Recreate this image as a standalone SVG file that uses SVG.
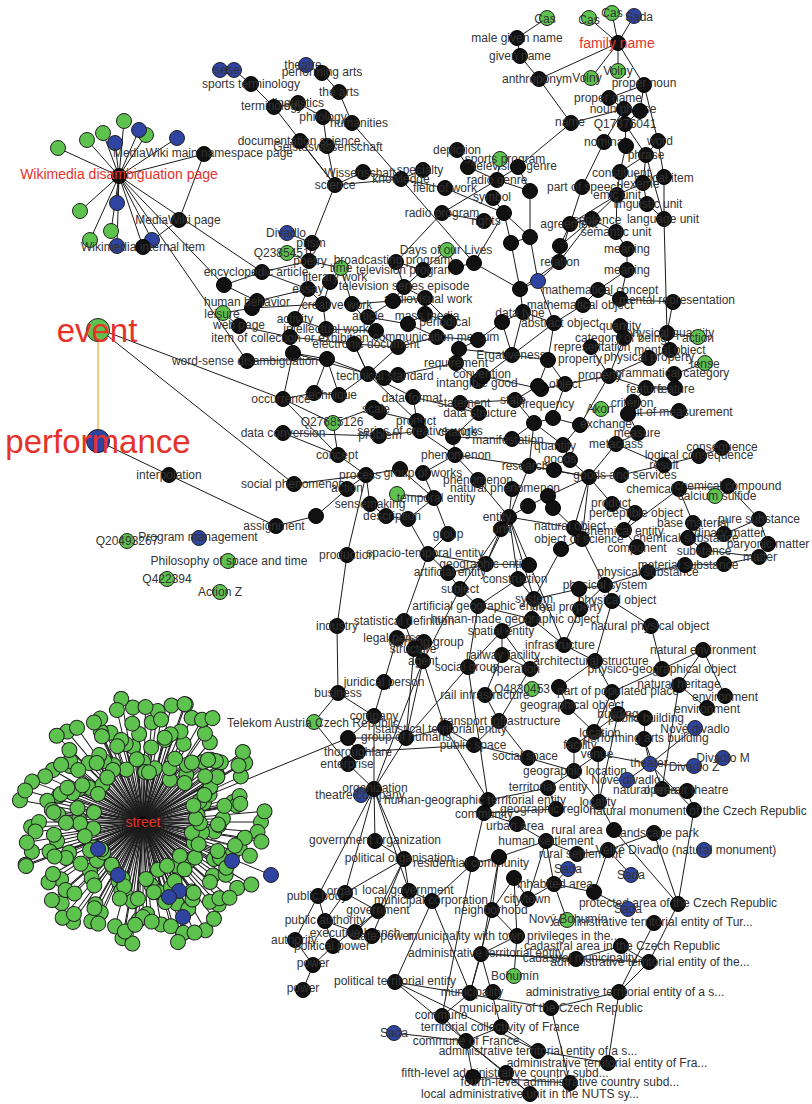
<svg xmlns="http://www.w3.org/2000/svg" width="812" height="1104" viewBox="0 0 812 1104">
<style>
.k{fill:#111;stroke:#000;stroke-width:1}
.g{fill:#5ec24e;stroke:#222;stroke-width:1}
.b{fill:#2e44a0;stroke:#222;stroke-width:1}
text{font-family:"Liberation Sans",Arial,sans-serif;font-size:12px;fill:#333;text-anchor:middle;dominant-baseline:central}
text.r{fill:#e5322b;font-size:14px}
text.big{fill:#e5322b;font-size:33px}
#edges path{stroke:#1b1b1b;stroke-width:1;fill:none}
#street-spokes line{stroke:#1b1b1b;stroke-width:1}
</style>
<rect width="812" height="1104" fill="#fff"/>
<g id="edges">
<path d="M547 18L517 38"/><path d="M517 38L520 56"/><path d="M520 56L539 79"/><path d="M539 79L618 43"/><path d="M539 79L571 123"/>
<path d="M589 18L618 43"/><path d="M612 13L618 43"/><path d="M634 16L618 43"/><path d="M591 78L618 43"/><path d="M618 71L618 43"/>
<path d="M618 43L644 85"/><path d="M644 85L609 98"/><path d="M644 85L640 111"/><path d="M644 85L658 141"/><path d="M609 98L624 109"/>
<path d="M571 123L624 109"/><path d="M571 123L518 167"/><path d="M624 109L625 124"/><path d="M640 111L625 124"/><path d="M625 124L626 146"/>
<path d="M625 124L646 155"/><path d="M604 142L582 187"/><path d="M604 142L624 109"/><path d="M626 146L620 172"/><path d="M658 141L664 177"/>
<path d="M658 141L646 155"/><path d="M646 155L620 172"/><path d="M646 155L643 183"/><path d="M646 155L664 219"/><path d="M664 177L664 219"/>
<path d="M620 172L617 195"/><path d="M643 183L617 195"/><path d="M643 183L647 204"/><path d="M617 195L592 219"/><path d="M617 195L570 224"/>
<path d="M617 195L616 232"/><path d="M647 204L664 219"/><path d="M582 187L570 224"/><path d="M592 219L570 224"/><path d="M592 219L560 246"/>
<path d="M592 219L559 262"/><path d="M592 219L616 232"/><path d="M616 232L627 249"/><path d="M627 249L627 270"/><path d="M570 224L560 246"/>
<path d="M560 246L559 262"/><path d="M664 219L667 333"/><path d="M627 270L620 299"/><path d="M570 224L559 262"/>
<path d="M457 150L468 167"/><path d="M500 159L497 180"/><path d="M518 167L497 180"/><path d="M468 167L497 180"/><path d="M497 180L442 213"/>
<path d="M497 180L530 191"/><path d="M493 198L504 213"/><path d="M445 188L504 213"/><path d="M401 179L445 188"/><path d="M401 179L423 170"/>
<path d="M401 179L363 172"/><path d="M363 172L335 185"/><path d="M335 185L401 179"/><path d="M335 185L300 141"/><path d="M335 185L327 146"/>
<path d="M335 185L274 107"/><path d="M335 185L312 243"/><path d="M352 123L339 92"/><path d="M339 92L322 73"/><path d="M322 73L306 65"/>
<path d="M298 103L323 117"/><path d="M323 117L327 146"/><path d="M274 107L298 103"/><path d="M274 107L251 84"/><path d="M251 84L234 70"/>
<path d="M352 123L401 179"/><path d="M442 213L396 262"/><path d="M442 213L484 221"/><path d="M401 179L474 263"/><path d="M504 213L530 237"/>
<path d="M504 213L511 243"/><path d="M504 213L474 263"/><path d="M530 191L530 237"/><path d="M518 167L530 191"/><path d="M511 243L530 237"/>
<path d="M396 262L423 270"/><path d="M447 250L456 267"/><path d="M423 270L404 287"/><path d="M456 267L474 263"/><path d="M474 263L520 289"/>
<path d="M312 243L309 261"/><path d="M309 261L262 272"/><path d="M309 261L341 268"/><path d="M341 268L330 282"/><path d="M330 282L323 304"/>
<path d="M404 287L425 298"/><path d="M393 301L425 298"/><path d="M352 304L393 301"/><path d="M308 289L295 319"/><path d="M287 233L312 243"/>
<path d="M287 253L309 261"/><path d="M447 250L423 270"/><path d="M396 262L404 287"/>
<path d="M119 176L58 148"/><path d="M119 176L87 140"/><path d="M119 176L103 133"/><path d="M119 176L124 121"/><path d="M119 176L139 130"/>
<path d="M119 176L146 135"/><path d="M119 176L115 143"/><path d="M119 176L177 138"/><path d="M119 176L117 203"/><path d="M119 176L80 211"/>
<path d="M119 176L111 231"/><path d="M119 176L90 240"/><path d="M119 176L117 246"/><path d="M119 176L152 240"/><path d="M119 176L204 154"/>
<path d="M204 154L179 220"/><path d="M179 220L143 247"/><path d="M119 176L143 247"/><path d="M119 176L247 361"/><path d="M119 176L224 285"/>
<path d="M119 176L262 272"/><path d="M262 272L224 285"/>
<path d="M99 329L283 399"/><path d="M99 329L294 484"/><path d="M98 441L169 475"/><path d="M169 475L276 526"/>
<path d="M224 285L257 301"/><path d="M257 301L252 308"/><path d="M252 308L223 313"/><path d="M223 313L239 326"/><path d="M239 326L290 337"/>
<path d="M252 308L323 304"/><path d="M257 301L308 289"/><path d="M290 337L354 344"/><path d="M293 353L327 359"/><path d="M247 361L327 359"/>
<path d="M283 399L314 393"/><path d="M283 399L333 423"/><path d="M283 399L338 455"/><path d="M314 393L339 395"/><path d="M339 395L368 374"/>
<path d="M283 433L379 436"/><path d="M283 433L338 455"/><path d="M294 484L366 475"/><path d="M276 526L316 516"/><path d="M316 516L347 489"/>
<path d="M347 489L366 475"/><path d="M338 455L366 475"/><path d="M338 455L333 423"/><path d="M366 475L400 469"/><path d="M366 475L370 504"/>
<path d="M370 504L386 516"/><path d="M386 516L408 519"/><path d="M366 475L347 555"/><path d="M347 555L337 626"/><path d="M337 626L338 693"/>
<path d="M338 693L374 716"/><path d="M338 693L314 722"/><path d="M314 722L348 764"/><path d="M374 716L384 682"/><path d="M384 682L397 638"/>
<path d="M374 716L374 789"/><path d="M368 374L398 347"/><path d="M368 374L327 359"/><path d="M368 374L354 344"/><path d="M368 374L293 353"/>
<path d="M368 374L413 397"/><path d="M368 374L417 421"/><path d="M368 374L384 378"/><path d="M384 378L398 375"/><path d="M398 375L456 363"/>
<path d="M398 347L437 337"/><path d="M437 337L478 340"/><path d="M437 337L408 324"/><path d="M408 324L425 314"/><path d="M425 314L449 322"/>
<path d="M368 317L376 331"/><path d="M326 329L376 331"/><path d="M326 329L295 319"/><path d="M354 344L398 347"/><path d="M413 397L479 413"/>
<path d="M413 397L417 421"/><path d="M417 421L420 431"/><path d="M420 431L455 455"/><path d="M379 436L420 431"/><path d="M455 455L453 437"/>
<path d="M453 437L512 439"/><path d="M455 455L423 473"/><path d="M455 455L478 480"/><path d="M455 455L529 466"/><path d="M423 473L434 498"/>
<path d="M400 469L434 498"/><path d="M434 498L448 534"/><path d="M434 498L408 519"/><path d="M448 534L428 554"/><path d="M428 554L448 573"/>
<path d="M478 480L509 517"/><path d="M509 517L501 529"/><path d="M509 517L460 589"/><path d="M501 529L486 564"/><path d="M512 489L509 517"/>
<path d="M529 466L509 517"/><path d="M456 363L478 381"/><path d="M478 381L483 376"/><path d="M483 376L541 389"/><path d="M460 403L479 413"/>
<path d="M460 403L515 400"/><path d="M479 413L453 437"/><path d="M512 355L478 381"/><path d="M512 355L459 349"/><path d="M459 349L478 340"/>
<path d="M459 349L456 363"/><path d="M373 408L379 412"/><path d="M379 412L417 421"/><path d="M333 423L373 408"/><path d="M408 519L428 554"/>
<path d="M397 494L434 498"/><path d="M262 272L308 289"/><path d="M308 289L323 304"/><path d="M295 319L290 337"/><path d="M290 337L293 353"/>
<path d="M293 353L283 399"/><path d="M327 359L314 393"/><path d="M327 359L339 395"/><path d="M354 344L368 374"/><path d="M376 331L398 347"/>
<path d="M393 301L368 317"/><path d="M368 317L408 324"/><path d="M425 298L425 314"/><path d="M425 298L449 322"/><path d="M404 287L393 301"/>
<path d="M323 304L326 329"/><path d="M352 304L376 331"/><path d="M341 268L352 304"/>
<path d="M520 289L538 281"/><path d="M520 289L523 312"/><path d="M523 312L502 322"/><path d="M502 322L478 340"/><path d="M523 312L554 323"/>
<path d="M554 323L548 360"/><path d="M548 360L565 384"/><path d="M565 384L541 389"/><path d="M565 384L553 418"/><path d="M553 418L580 425"/>
<path d="M580 425L563 445"/><path d="M563 445L570 460"/><path d="M570 460L589 477"/><path d="M589 477L554 470"/><path d="M589 477L612 504"/>
<path d="M589 477L574 528"/><path d="M589 477L582 539"/><path d="M589 477L616 444"/><path d="M589 477L621 475"/><path d="M589 477L529 466"/>
<path d="M621 475L664 465"/><path d="M664 465L699 456"/><path d="M699 456L722 448"/><path d="M616 444L638 433"/><path d="M616 444L664 465"/>
<path d="M638 433L628 414"/><path d="M628 414L633 402"/><path d="M628 414L679 411"/><path d="M633 402L646 388"/><path d="M609 376L646 388"/>
<path d="M646 388L675 388"/><path d="M675 388L674 374"/><path d="M674 374L705 363"/><path d="M609 376L649 358"/><path d="M649 358L670 350"/>
<path d="M670 350L667 333"/><path d="M667 333L698 337"/><path d="M667 333L673 302"/><path d="M673 302L620 299"/><path d="M620 299L598 290"/>
<path d="M598 290L583 305"/><path d="M583 305L554 323"/><path d="M620 326L624 338"/><path d="M624 338L609 376"/><path d="M591 347L609 376"/>
<path d="M609 376L580 425"/><path d="M609 376L565 384"/><path d="M612 504L635 513"/><path d="M635 513L624 530"/><path d="M624 530L679 489"/>
<path d="M679 489L728 486"/><path d="M728 486L759 519"/><path d="M759 519L724 534"/><path d="M759 519L768 544"/><path d="M679 489L693 523"/>
<path d="M693 523L688 538"/><path d="M688 538L704 550"/><path d="M704 550L759 557"/><path d="M637 547L624 530"/><path d="M574 528L582 539"/>
<path d="M582 539L605 585"/><path d="M605 585L612 601"/><path d="M612 601L651 626"/><path d="M651 626L662 669"/><path d="M662 669L703 650"/>
<path d="M703 650L725 696"/><path d="M703 650L679 685"/><path d="M679 685L707 708"/><path d="M662 669L612 692"/><path d="M612 692L618 714"/>
<path d="M618 714L645 718"/><path d="M645 718L644 739"/><path d="M644 739L650 764"/><path d="M650 764L695 728"/><path d="M650 764L694 766"/>
<path d="M650 764L627 780"/><path d="M650 764L598 754"/><path d="M644 739L662 789"/><path d="M662 789L687 791"/><path d="M687 791L694 810"/>
<path d="M648 572L685 565"/><path d="M685 565L724 564"/><path d="M724 564L759 557"/><path d="M605 585L648 572"/><path d="M579 589L605 585"/>
<path d="M580 609L579 589"/><path d="M564 645L595 661"/><path d="M595 661L612 692"/><path d="M595 661L559 687"/><path d="M559 687L568 707"/>
<path d="M568 707L594 732"/><path d="M594 732L574 745"/><path d="M574 745L574 771"/><path d="M574 771L598 754"/><path d="M574 771L548 788"/>
<path d="M548 788L556 809"/><path d="M599 802L574 771"/><path d="M599 802L614 830"/><path d="M594 732L618 714"/><path d="M598 754L599 802"/>
<path d="M679 685L662 789"/><path d="M612 692L594 732"/><path d="M618 714L599 802"/><path d="M650 764L694 810"/><path d="M612 601L595 661"/>
<path d="M605 585L580 609"/><path d="M580 609L564 645"/><path d="M579 589L534 599"/><path d="M627 270L598 290"/>
<path d="M530 237L538 281"/><path d="M511 243L520 289"/><path d="M559 262L520 289"/><path d="M559 262L538 281"/><path d="M538 281L554 323"/>
<path d="M502 322L512 355"/><path d="M523 312L512 355"/><path d="M554 323L512 355"/><path d="M548 360L512 355"/><path d="M538 386L548 360"/>
<path d="M538 386L515 400"/><path d="M534 423L515 400"/><path d="M534 423L553 418"/><path d="M534 423L512 439"/><path d="M534 423L529 466"/>
<path d="M529 466L554 470"/><path d="M528 506L548 496"/><path d="M548 496L553 508"/><path d="M553 508L574 528"/><path d="M528 506L509 517"/>
<path d="M561 549L582 539"/><path d="M561 549L534 599"/><path d="M548 496L589 477"/><path d="M563 445L534 423"/><path d="M512 439L563 445"/>
<path d="M509 517L574 528"/><path d="M509 517L518 579"/><path d="M509 517L486 564"/><path d="M509 517L534 599"/><path d="M509 517L564 645"/>
<path d="M486 564L529 565"/><path d="M486 564L448 573"/><path d="M448 573L460 589"/><path d="M460 589L478 606"/><path d="M478 606L532 619"/>
<path d="M518 579L534 599"/><path d="M518 579L478 606"/><path d="M534 599L532 619"/><path d="M532 619L502 631"/><path d="M502 631L502 655"/>
<path d="M502 655L485 695"/><path d="M485 695L499 721"/><path d="M499 721L530 669"/><path d="M499 721L474 745"/><path d="M474 745L445 728"/>
<path d="M445 728L406 738"/><path d="M406 738L348 738"/><path d="M358 752L474 745"/><path d="M406 738L374 789"/><path d="M406 738L423 661"/>
<path d="M423 661L414 649"/><path d="M414 649L424 642"/><path d="M424 642L397 638"/><path d="M404 621L414 649"/><path d="M404 621L428 554"/>
<path d="M468 667L406 738"/><path d="M468 667L502 631"/><path d="M468 667L488 800"/><path d="M423 661L445 728"/><path d="M445 728L488 800"/>
<path d="M488 800L484 813"/><path d="M484 813L472 864"/><path d="M484 813L517 824"/><path d="M517 824L546 841"/><path d="M460 589L423 661"/>
<path d="M478 606L468 667"/><path d="M502 631L530 669"/><path d="M532 619L564 645"/><path d="M502 655L530 669"/><path d="M499 721L528 758"/>
<path d="M528 758L574 771"/><path d="M474 745L528 758"/><path d="M488 800L548 788"/><path d="M484 813L556 809"/><path d="M423 661L374 789"/>
<path d="M414 649L406 738"/><path d="M374 716L348 738"/><path d="M348 738L358 752"/><path d="M358 752L348 764"/><path d="M348 764L374 789"/>
<path d="M361 795L374 789"/><path d="M143 822L348 738"/><path d="M428 554L486 564"/>
<path d="M546 841L554 884"/><path d="M546 841L577 854"/><path d="M577 854L608 850"/><path d="M608 850L594 892"/><path d="M594 892L554 884"/>
<path d="M594 892L628 909"/><path d="M608 850L654 833"/><path d="M654 833L678 904"/><path d="M608 850L631 875"/><path d="M554 884L567 920"/>
<path d="M554 884L568 869"/><path d="M614 830L678 904"/><path d="M528 899L514 878"/><path d="M514 878L517 936"/><path d="M517 936L481 954"/>
<path d="M481 954L470 993"/><path d="M481 954L501 1027"/><path d="M481 954L649 962"/><path d="M481 954L576 959"/><path d="M470 993L442 1016"/>
<path d="M432 901L395 982"/><path d="M432 901L470 993"/><path d="M395 982L551 1008"/><path d="M395 982L466 1041"/><path d="M395 982L538 1051"/>
<path d="M442 1016L466 1041"/><path d="M442 1016L472 864"/><path d="M466 1041L501 1027"/><path d="M466 1041L506 1073"/><path d="M466 1041L530 1094"/>
<path d="M394 1033L466 1041"/><path d="M501 1027L538 1051"/><path d="M538 1051L608 1063"/><path d="M608 1063L619 992"/><path d="M506 1073L530 1094"/>
<path d="M473 1077L570 1083"/><path d="M551 1008L570 1083"/><path d="M551 1008L619 992"/><path d="M619 992L654 923"/><path d="M619 992L649 962"/>
<path d="M649 962L678 904"/><path d="M621 946L649 962"/><path d="M576 959L621 946"/><path d="M514 976L517 936"/><path d="M492 910L514 878"/>
<path d="M492 910L470 993"/><path d="M499 857L546 841"/><path d="M499 857L492 910"/><path d="M472 864L499 857"/><path d="M694 810L678 904"/>
<path d="M374 789L375 841"/><path d="M374 789L404 859"/><path d="M374 789L345 893"/><path d="M374 789L318 896"/><path d="M374 789L409 891"/>
<path d="M375 841L404 859"/><path d="M404 859L409 891"/><path d="M404 859L378 911"/><path d="M404 859L345 893"/><path d="M409 891L432 901"/>
<path d="M345 893L378 911"/><path d="M345 893L325 921"/><path d="M318 896L325 921"/><path d="M325 921L355 932"/><path d="M325 921L333 946"/>
<path d="M355 932L372 936"/><path d="M378 911L355 932"/><path d="M378 911L333 946"/><path d="M295 940L313 965"/><path d="M295 940L318 896"/>
<path d="M333 946L313 965"/><path d="M313 965L303 990"/><path d="M372 936L404 859"/><path d="M499 857L481 954"/><path d="M472 864L432 901"/>
<path d="M492 910L517 936"/><path d="M528 899L546 841"/><path d="M554 884L528 899"/><path d="M473 1077L466 1041"/>
</g>
<path id="event-performance" d="M98 341L98 430" stroke="#f5a623" stroke-width="1.2" fill="none"/>
<g id="street-spokes" transform="translate(143 822)">
<line transform="rotate(0)" x2="118"/><line transform="rotate(137.5)" x2="72"/><line transform="rotate(275)" x2="100"/><line transform="rotate(52.5)" x2="55"/><line transform="rotate(190)" x2="125"/><line transform="rotate(327.5)" x2="88"/><line transform="rotate(105)" x2="108"/><line transform="rotate(242.5)" x2="64"/><line transform="rotate(20)" x2="95"/><line transform="rotate(157.5)" x2="80"/>
<line transform="rotate(295)" x2="115"/><line transform="rotate(72.5)" x2="50"/><line transform="rotate(210)" x2="104"/><line transform="rotate(347.5)" x2="92"/><line transform="rotate(125)" x2="122"/><line transform="rotate(262.5)" x2="76"/><line transform="rotate(40)" x2="60"/><line transform="rotate(177.5)" x2="112"/><line transform="rotate(315)" x2="85"/><line transform="rotate(92.5)" x2="98"/>
<line transform="rotate(230)" x2="118"/><line transform="rotate(7.5)" x2="72"/><line transform="rotate(145)" x2="100"/><line transform="rotate(282.5)" x2="55"/><line transform="rotate(60)" x2="125"/><line transform="rotate(197.5)" x2="88"/><line transform="rotate(335)" x2="108"/><line transform="rotate(112.5)" x2="64"/><line transform="rotate(250)" x2="95"/><line transform="rotate(27.5)" x2="80"/>
<line transform="rotate(165)" x2="115"/><line transform="rotate(302.5)" x2="50"/><line transform="rotate(80)" x2="104"/><line transform="rotate(217.5)" x2="92"/><line transform="rotate(355)" x2="122"/><line transform="rotate(132.5)" x2="76"/><line transform="rotate(270)" x2="60"/><line transform="rotate(47.5)" x2="112"/><line transform="rotate(185)" x2="85"/><line transform="rotate(322.5)" x2="98"/>
<line transform="rotate(100)" x2="118"/><line transform="rotate(237.5)" x2="72"/><line transform="rotate(15)" x2="100"/><line transform="rotate(152.5)" x2="55"/><line transform="rotate(290)" x2="125"/><line transform="rotate(67.5)" x2="88"/><line transform="rotate(205)" x2="108"/><line transform="rotate(342.5)" x2="64"/><line transform="rotate(120)" x2="95"/><line transform="rotate(257.5)" x2="80"/>
<line transform="rotate(35)" x2="115"/><line transform="rotate(172.5)" x2="50"/><line transform="rotate(310)" x2="104"/><line transform="rotate(87.5)" x2="92"/><line transform="rotate(225)" x2="122"/><line transform="rotate(2.5)" x2="76"/><line transform="rotate(140)" x2="60"/><line transform="rotate(277.5)" x2="112"/><line transform="rotate(55)" x2="85"/><line transform="rotate(192.5)" x2="98"/>
<line transform="rotate(330)" x2="118"/><line transform="rotate(107.5)" x2="72"/><line transform="rotate(245)" x2="100"/><line transform="rotate(22.5)" x2="55"/><line transform="rotate(160)" x2="125"/><line transform="rotate(297.5)" x2="88"/><line transform="rotate(75)" x2="108"/><line transform="rotate(212.5)" x2="64"/><line transform="rotate(350)" x2="95"/><line transform="rotate(127.5)" x2="80"/>
<line transform="rotate(265)" x2="115"/><line transform="rotate(42.5)" x2="50"/><line transform="rotate(180)" x2="104"/><line transform="rotate(317.5)" x2="92"/><line transform="rotate(95)" x2="122"/><line transform="rotate(232.5)" x2="76"/><line transform="rotate(10)" x2="60"/><line transform="rotate(147.5)" x2="112"/><line transform="rotate(285)" x2="85"/><line transform="rotate(62.5)" x2="98"/>
<line transform="rotate(200)" x2="118"/><line transform="rotate(337.5)" x2="72"/><line transform="rotate(115)" x2="100"/><line transform="rotate(252.5)" x2="55"/><line transform="rotate(30)" x2="125"/><line transform="rotate(167.5)" x2="88"/><line transform="rotate(305)" x2="108"/><line transform="rotate(82.5)" x2="64"/><line transform="rotate(220)" x2="95"/><line transform="rotate(357.5)" x2="80"/>
<line transform="rotate(135)" x2="115"/><line transform="rotate(272.5)" x2="50"/><line transform="rotate(50)" x2="104"/><line transform="rotate(187.5)" x2="92"/><line transform="rotate(325)" x2="122"/><line transform="rotate(102.5)" x2="76"/><line transform="rotate(240)" x2="60"/><line transform="rotate(17.5)" x2="112"/><line transform="rotate(155)" x2="85"/><line transform="rotate(292.5)" x2="98"/>
<line transform="rotate(70)" x2="118"/><line transform="rotate(207.5)" x2="72"/><line transform="rotate(345)" x2="100"/><line transform="rotate(122.5)" x2="55"/><line transform="rotate(260)" x2="125"/><line transform="rotate(37.5)" x2="88"/><line transform="rotate(175)" x2="108"/><line transform="rotate(312.5)" x2="64"/><line transform="rotate(90)" x2="95"/><line transform="rotate(227.5)" x2="80"/>
<line transform="rotate(5)" x2="115"/><line transform="rotate(142.5)" x2="50"/><line transform="rotate(280)" x2="104"/><line transform="rotate(57.5)" x2="92"/><line transform="rotate(195)" x2="122"/><line transform="rotate(332.5)" x2="76"/><line transform="rotate(110)" x2="60"/><line transform="rotate(247.5)" x2="112"/><line transform="rotate(25)" x2="85"/><line transform="rotate(162.5)" x2="98"/>
<line transform="rotate(300)" x2="118"/><line transform="rotate(77.5)" x2="72"/><line transform="rotate(215)" x2="100"/><line transform="rotate(352.5)" x2="55"/><line transform="rotate(130)" x2="125"/><line transform="rotate(267.5)" x2="88"/><line transform="rotate(45)" x2="108"/><line transform="rotate(182.5)" x2="64"/><line transform="rotate(320)" x2="95"/><line transform="rotate(97.5)" x2="80"/>
<line transform="rotate(235)" x2="115"/><line transform="rotate(12.5)" x2="50"/><line transform="rotate(150)" x2="104"/><line transform="rotate(287.5)" x2="92"/><line transform="rotate(65)" x2="122"/><line transform="rotate(202.5)" x2="76"/><line transform="rotate(340)" x2="60"/><line transform="rotate(117.5)" x2="112"/><line transform="rotate(255)" x2="85"/><line transform="rotate(32.5)" x2="98"/>
<line transform="rotate(170)" x2="118"/><line transform="rotate(307.5)" x2="72"/><line transform="rotate(85)" x2="100"/><line transform="rotate(222.5)" x2="55"/>
<line transform="rotate(1.25)" x2="57"/><line transform="rotate(138.75)" x2="103"/><line transform="rotate(276.25)" x2="75"/><line transform="rotate(53.75)" x2="120"/><line transform="rotate(191.25)" x2="50"/><line transform="rotate(328.75)" x2="87"/><line transform="rotate(106.25)" x2="67"/><line transform="rotate(243.75)" x2="111"/><line transform="rotate(21.25)" x2="80"/><line transform="rotate(158.75)" x2="95"/>
<line transform="rotate(296.25)" x2="60"/><line transform="rotate(73.75)" x2="125"/><line transform="rotate(211.25)" x2="71"/><line transform="rotate(348.75)" x2="83"/><line transform="rotate(126.25)" x2="53"/><line transform="rotate(263.75)" x2="99"/><line transform="rotate(41.25)" x2="115"/><line transform="rotate(178.75)" x2="63"/><line transform="rotate(316.25)" x2="90"/><line transform="rotate(93.75)" x2="77"/>
<line transform="rotate(231.25)" x2="57"/><line transform="rotate(8.75)" x2="103"/><line transform="rotate(146.25)" x2="75"/><line transform="rotate(283.75)" x2="120"/><line transform="rotate(61.25)" x2="50"/><line transform="rotate(198.75)" x2="87"/><line transform="rotate(336.25)" x2="67"/><line transform="rotate(113.75)" x2="111"/><line transform="rotate(251.25)" x2="80"/><line transform="rotate(28.75)" x2="95"/>
<line transform="rotate(166.25)" x2="60"/><line transform="rotate(303.75)" x2="125"/><line transform="rotate(81.25)" x2="71"/><line transform="rotate(218.75)" x2="83"/><line transform="rotate(356.25)" x2="53"/><line transform="rotate(133.75)" x2="99"/><line transform="rotate(271.25)" x2="115"/><line transform="rotate(48.75)" x2="63"/><line transform="rotate(186.25)" x2="90"/><line transform="rotate(323.75)" x2="77"/>
<line transform="rotate(99.4)" x2="111"/><line transform="rotate(236.9)" x2="80"/><line transform="rotate(14.4)" x2="95"/><line transform="rotate(151.9)" x2="60"/><line transform="rotate(289.4)" x2="125"/><line transform="rotate(66.9)" x2="71"/><line transform="rotate(204.4)" x2="83"/><line transform="rotate(341.9)" x2="53"/><line transform="rotate(119.4)" x2="99"/><line transform="rotate(256.9)" x2="115"/>
<line transform="rotate(34.4)" x2="63"/><line transform="rotate(171.9)" x2="90"/><line transform="rotate(309.4)" x2="77"/><line transform="rotate(86.9)" x2="57"/><line transform="rotate(224.4)" x2="103"/><line transform="rotate(1.9)" x2="75"/><line transform="rotate(139.4)" x2="120"/><line transform="rotate(276.9)" x2="50"/><line transform="rotate(54.4)" x2="87"/><line transform="rotate(191.9)" x2="67"/>
<line transform="rotate(329.4)" x2="111"/><line transform="rotate(106.9)" x2="80"/><line transform="rotate(244.4)" x2="95"/><line transform="rotate(21.9)" x2="60"/><line transform="rotate(159.4)" x2="125"/><line transform="rotate(296.9)" x2="71"/><line transform="rotate(74.4)" x2="83"/><line transform="rotate(211.9)" x2="53"/><line transform="rotate(349.4)" x2="99"/><line transform="rotate(126.9)" x2="115"/>
<line transform="rotate(264.4)" x2="63"/><line transform="rotate(41.9)" x2="90"/><line transform="rotate(179.4)" x2="77"/><line transform="rotate(316.9)" x2="57"/><line transform="rotate(94.4)" x2="103"/><line transform="rotate(231.9)" x2="75"/><line transform="rotate(9.4)" x2="120"/><line transform="rotate(146.9)" x2="50"/><line transform="rotate(284.4)" x2="87"/><line transform="rotate(61.9)" x2="67"/>
<line x2="-45" y2="27"/><line x2="-25" y2="53"/><line x2="89" y2="39"/><line x2="128" y2="53"/><line x2="36" y2="69"/><line x2="26" y2="75"/><line x2="40" y2="95"/>
</g>
<g id="street-leaves" transform="translate(143 822)">
<circle class="g" r="7.5" transform="rotate(0)" cx="118"/><circle class="g" r="7.5" transform="rotate(137.5)" cx="72"/><circle class="g" r="7.5" transform="rotate(275)" cx="100"/><circle class="g" r="7.5" transform="rotate(52.5)" cx="55"/><circle class="g" r="7.5" transform="rotate(190)" cx="125"/><circle class="g" r="7.5" transform="rotate(327.5)" cx="88"/><circle class="g" r="7.5" transform="rotate(105)" cx="108"/><circle class="g" r="7.5" transform="rotate(242.5)" cx="64"/><circle class="g" r="7.5" transform="rotate(20)" cx="95"/><circle class="g" r="7.5" transform="rotate(157.5)" cx="80"/>
<circle class="g" r="7.5" transform="rotate(295)" cx="115"/><circle class="g" r="7.5" transform="rotate(72.5)" cx="50"/><circle class="g" r="7.5" transform="rotate(210)" cx="104"/><circle class="g" r="7.5" transform="rotate(347.5)" cx="92"/><circle class="g" r="7.5" transform="rotate(125)" cx="122"/><circle class="g" r="7.5" transform="rotate(262.5)" cx="76"/><circle class="g" r="7.5" transform="rotate(40)" cx="60"/><circle class="g" r="7.5" transform="rotate(177.5)" cx="112"/><circle class="g" r="7.5" transform="rotate(315)" cx="85"/><circle class="g" r="7.5" transform="rotate(92.5)" cx="98"/>
<circle class="g" r="7.5" transform="rotate(230)" cx="118"/><circle class="g" r="7.5" transform="rotate(7.5)" cx="72"/><circle class="g" r="7.5" transform="rotate(145)" cx="100"/><circle class="g" r="7.5" transform="rotate(282.5)" cx="55"/><circle class="g" r="7.5" transform="rotate(60)" cx="125"/><circle class="g" r="7.5" transform="rotate(197.5)" cx="88"/><circle class="g" r="7.5" transform="rotate(335)" cx="108"/><circle class="g" r="7.5" transform="rotate(112.5)" cx="64"/><circle class="g" r="7.5" transform="rotate(250)" cx="95"/><circle class="g" r="7.5" transform="rotate(27.5)" cx="80"/>
<circle class="g" r="7.5" transform="rotate(165)" cx="115"/><circle class="g" r="7.5" transform="rotate(302.5)" cx="50"/><circle class="g" r="7.5" transform="rotate(80)" cx="104"/><circle class="g" r="7.5" transform="rotate(217.5)" cx="92"/><circle class="g" r="7.5" transform="rotate(355)" cx="122"/><circle class="g" r="7.5" transform="rotate(132.5)" cx="76"/><circle class="g" r="7.5" transform="rotate(270)" cx="60"/><circle class="g" r="7.5" transform="rotate(47.5)" cx="112"/><circle class="g" r="7.5" transform="rotate(185)" cx="85"/><circle class="g" r="7.5" transform="rotate(322.5)" cx="98"/>
<circle class="g" r="7.5" transform="rotate(100)" cx="118"/><circle class="g" r="7.5" transform="rotate(237.5)" cx="72"/><circle class="g" r="7.5" transform="rotate(15)" cx="100"/><circle class="g" r="7.5" transform="rotate(152.5)" cx="55"/><circle class="g" r="7.5" transform="rotate(290)" cx="125"/><circle class="g" r="7.5" transform="rotate(67.5)" cx="88"/><circle class="g" r="7.5" transform="rotate(205)" cx="108"/><circle class="g" r="7.5" transform="rotate(342.5)" cx="64"/><circle class="g" r="7.5" transform="rotate(120)" cx="95"/><circle class="g" r="7.5" transform="rotate(257.5)" cx="80"/>
<circle class="g" r="7.5" transform="rotate(35)" cx="115"/><circle class="g" r="7.5" transform="rotate(172.5)" cx="50"/><circle class="g" r="7.5" transform="rotate(310)" cx="104"/><circle class="g" r="7.5" transform="rotate(87.5)" cx="92"/><circle class="g" r="7.5" transform="rotate(225)" cx="122"/><circle class="g" r="7.5" transform="rotate(2.5)" cx="76"/><circle class="g" r="7.5" transform="rotate(140)" cx="60"/><circle class="g" r="7.5" transform="rotate(277.5)" cx="112"/><circle class="g" r="7.5" transform="rotate(55)" cx="85"/><circle class="g" r="7.5" transform="rotate(192.5)" cx="98"/>
<circle class="g" r="7.5" transform="rotate(330)" cx="118"/><circle class="g" r="7.5" transform="rotate(107.5)" cx="72"/><circle class="g" r="7.5" transform="rotate(245)" cx="100"/><circle class="g" r="7.5" transform="rotate(22.5)" cx="55"/><circle class="g" r="7.5" transform="rotate(160)" cx="125"/><circle class="g" r="7.5" transform="rotate(297.5)" cx="88"/><circle class="g" r="7.5" transform="rotate(75)" cx="108"/><circle class="g" r="7.5" transform="rotate(212.5)" cx="64"/><circle class="g" r="7.5" transform="rotate(350)" cx="95"/><circle class="g" r="7.5" transform="rotate(127.5)" cx="80"/>
<circle class="g" r="7.5" transform="rotate(265)" cx="115"/><circle class="g" r="7.5" transform="rotate(42.5)" cx="50"/><circle class="g" r="7.5" transform="rotate(180)" cx="104"/><circle class="g" r="7.5" transform="rotate(317.5)" cx="92"/><circle class="g" r="7.5" transform="rotate(95)" cx="122"/><circle class="g" r="7.5" transform="rotate(232.5)" cx="76"/><circle class="g" r="7.5" transform="rotate(10)" cx="60"/><circle class="g" r="7.5" transform="rotate(147.5)" cx="112"/><circle class="g" r="7.5" transform="rotate(285)" cx="85"/><circle class="g" r="7.5" transform="rotate(62.5)" cx="98"/>
<circle class="g" r="7.5" transform="rotate(200)" cx="118"/><circle class="g" r="7.5" transform="rotate(337.5)" cx="72"/><circle class="g" r="7.5" transform="rotate(115)" cx="100"/><circle class="g" r="7.5" transform="rotate(252.5)" cx="55"/><circle class="g" r="7.5" transform="rotate(30)" cx="125"/><circle class="g" r="7.5" transform="rotate(167.5)" cx="88"/><circle class="g" r="7.5" transform="rotate(305)" cx="108"/><circle class="g" r="7.5" transform="rotate(82.5)" cx="64"/><circle class="g" r="7.5" transform="rotate(220)" cx="95"/><circle class="g" r="7.5" transform="rotate(357.5)" cx="80"/>
<circle class="g" r="7.5" transform="rotate(135)" cx="115"/><circle class="g" r="7.5" transform="rotate(272.5)" cx="50"/><circle class="g" r="7.5" transform="rotate(50)" cx="104"/><circle class="g" r="7.5" transform="rotate(187.5)" cx="92"/><circle class="g" r="7.5" transform="rotate(325)" cx="122"/><circle class="g" r="7.5" transform="rotate(102.5)" cx="76"/><circle class="g" r="7.5" transform="rotate(240)" cx="60"/><circle class="g" r="7.5" transform="rotate(17.5)" cx="112"/><circle class="g" r="7.5" transform="rotate(155)" cx="85"/><circle class="g" r="7.5" transform="rotate(292.5)" cx="98"/>
<circle class="g" r="7.5" transform="rotate(70)" cx="118"/><circle class="g" r="7.5" transform="rotate(207.5)" cx="72"/><circle class="g" r="7.5" transform="rotate(345)" cx="100"/><circle class="g" r="7.5" transform="rotate(122.5)" cx="55"/><circle class="g" r="7.5" transform="rotate(260)" cx="125"/><circle class="g" r="7.5" transform="rotate(37.5)" cx="88"/><circle class="g" r="7.5" transform="rotate(175)" cx="108"/><circle class="g" r="7.5" transform="rotate(312.5)" cx="64"/><circle class="g" r="7.5" transform="rotate(90)" cx="95"/><circle class="g" r="7.5" transform="rotate(227.5)" cx="80"/>
<circle class="g" r="7.5" transform="rotate(5)" cx="115"/><circle class="g" r="7.5" transform="rotate(142.5)" cx="50"/><circle class="g" r="7.5" transform="rotate(280)" cx="104"/><circle class="g" r="7.5" transform="rotate(57.5)" cx="92"/><circle class="g" r="7.5" transform="rotate(195)" cx="122"/><circle class="g" r="7.5" transform="rotate(332.5)" cx="76"/><circle class="g" r="7.5" transform="rotate(110)" cx="60"/><circle class="g" r="7.5" transform="rotate(247.5)" cx="112"/><circle class="g" r="7.5" transform="rotate(25)" cx="85"/><circle class="g" r="7.5" transform="rotate(162.5)" cx="98"/>
<circle class="g" r="7.5" transform="rotate(300)" cx="118"/><circle class="g" r="7.5" transform="rotate(77.5)" cx="72"/><circle class="g" r="7.5" transform="rotate(215)" cx="100"/><circle class="g" r="7.5" transform="rotate(352.5)" cx="55"/><circle class="g" r="7.5" transform="rotate(130)" cx="125"/><circle class="g" r="7.5" transform="rotate(267.5)" cx="88"/><circle class="g" r="7.5" transform="rotate(45)" cx="108"/><circle class="g" r="7.5" transform="rotate(182.5)" cx="64"/><circle class="g" r="7.5" transform="rotate(320)" cx="95"/><circle class="g" r="7.5" transform="rotate(97.5)" cx="80"/>
<circle class="g" r="7.5" transform="rotate(235)" cx="115"/><circle class="g" r="7.5" transform="rotate(12.5)" cx="50"/><circle class="g" r="7.5" transform="rotate(150)" cx="104"/><circle class="g" r="7.5" transform="rotate(287.5)" cx="92"/><circle class="g" r="7.5" transform="rotate(65)" cx="122"/><circle class="g" r="7.5" transform="rotate(202.5)" cx="76"/><circle class="g" r="7.5" transform="rotate(340)" cx="60"/><circle class="g" r="7.5" transform="rotate(117.5)" cx="112"/><circle class="g" r="7.5" transform="rotate(255)" cx="85"/><circle class="g" r="7.5" transform="rotate(32.5)" cx="98"/>
<circle class="g" r="7.5" transform="rotate(170)" cx="118"/><circle class="g" r="7.5" transform="rotate(307.5)" cx="72"/><circle class="g" r="7.5" transform="rotate(85)" cx="100"/><circle class="g" r="7.5" transform="rotate(222.5)" cx="55"/>
<circle class="g" r="7.5" transform="rotate(1.25)" cx="57"/><circle class="g" r="7.5" transform="rotate(138.75)" cx="103"/><circle class="g" r="7.5" transform="rotate(276.25)" cx="75"/><circle class="g" r="7.5" transform="rotate(53.75)" cx="120"/><circle class="g" r="7.5" transform="rotate(191.25)" cx="50"/><circle class="g" r="7.5" transform="rotate(328.75)" cx="87"/><circle class="g" r="7.5" transform="rotate(106.25)" cx="67"/><circle class="g" r="7.5" transform="rotate(243.75)" cx="111"/><circle class="g" r="7.5" transform="rotate(21.25)" cx="80"/><circle class="g" r="7.5" transform="rotate(158.75)" cx="95"/>
<circle class="g" r="7.5" transform="rotate(296.25)" cx="60"/><circle class="g" r="7.5" transform="rotate(73.75)" cx="125"/><circle class="g" r="7.5" transform="rotate(211.25)" cx="71"/><circle class="g" r="7.5" transform="rotate(348.75)" cx="83"/><circle class="g" r="7.5" transform="rotate(126.25)" cx="53"/><circle class="g" r="7.5" transform="rotate(263.75)" cx="99"/><circle class="g" r="7.5" transform="rotate(41.25)" cx="115"/><circle class="g" r="7.5" transform="rotate(178.75)" cx="63"/><circle class="g" r="7.5" transform="rotate(316.25)" cx="90"/><circle class="g" r="7.5" transform="rotate(93.75)" cx="77"/>
<circle class="g" r="7.5" transform="rotate(231.25)" cx="57"/><circle class="g" r="7.5" transform="rotate(8.75)" cx="103"/><circle class="g" r="7.5" transform="rotate(146.25)" cx="75"/><circle class="g" r="7.5" transform="rotate(283.75)" cx="120"/><circle class="g" r="7.5" transform="rotate(61.25)" cx="50"/><circle class="g" r="7.5" transform="rotate(198.75)" cx="87"/><circle class="g" r="7.5" transform="rotate(336.25)" cx="67"/><circle class="g" r="7.5" transform="rotate(113.75)" cx="111"/><circle class="g" r="7.5" transform="rotate(251.25)" cx="80"/><circle class="g" r="7.5" transform="rotate(28.75)" cx="95"/>
<circle class="g" r="7.5" transform="rotate(166.25)" cx="60"/><circle class="g" r="7.5" transform="rotate(303.75)" cx="125"/><circle class="g" r="7.5" transform="rotate(81.25)" cx="71"/><circle class="g" r="7.5" transform="rotate(218.75)" cx="83"/><circle class="g" r="7.5" transform="rotate(356.25)" cx="53"/><circle class="g" r="7.5" transform="rotate(133.75)" cx="99"/><circle class="g" r="7.5" transform="rotate(271.25)" cx="115"/><circle class="g" r="7.5" transform="rotate(48.75)" cx="63"/><circle class="g" r="7.5" transform="rotate(186.25)" cx="90"/><circle class="g" r="7.5" transform="rotate(323.75)" cx="77"/>
<circle class="g" r="7.5" transform="rotate(99.4)" cx="111"/><circle class="g" r="7.5" transform="rotate(236.9)" cx="80"/><circle class="g" r="7.5" transform="rotate(14.4)" cx="95"/><circle class="g" r="7.5" transform="rotate(151.9)" cx="60"/><circle class="g" r="7.5" transform="rotate(289.4)" cx="125"/><circle class="g" r="7.5" transform="rotate(66.9)" cx="71"/><circle class="g" r="7.5" transform="rotate(204.4)" cx="83"/><circle class="g" r="7.5" transform="rotate(341.9)" cx="53"/><circle class="g" r="7.5" transform="rotate(119.4)" cx="99"/><circle class="g" r="7.5" transform="rotate(256.9)" cx="115"/>
<circle class="g" r="7.5" transform="rotate(34.4)" cx="63"/><circle class="g" r="7.5" transform="rotate(171.9)" cx="90"/><circle class="g" r="7.5" transform="rotate(309.4)" cx="77"/><circle class="g" r="7.5" transform="rotate(86.9)" cx="57"/><circle class="g" r="7.5" transform="rotate(224.4)" cx="103"/><circle class="g" r="7.5" transform="rotate(1.9)" cx="75"/><circle class="g" r="7.5" transform="rotate(139.4)" cx="120"/><circle class="g" r="7.5" transform="rotate(276.9)" cx="50"/><circle class="g" r="7.5" transform="rotate(54.4)" cx="87"/><circle class="g" r="7.5" transform="rotate(191.9)" cx="67"/>
<circle class="g" r="7.5" transform="rotate(329.4)" cx="111"/><circle class="g" r="7.5" transform="rotate(106.9)" cx="80"/><circle class="g" r="7.5" transform="rotate(244.4)" cx="95"/><circle class="g" r="7.5" transform="rotate(21.9)" cx="60"/><circle class="g" r="7.5" transform="rotate(159.4)" cx="125"/><circle class="g" r="7.5" transform="rotate(296.9)" cx="71"/><circle class="g" r="7.5" transform="rotate(74.4)" cx="83"/><circle class="g" r="7.5" transform="rotate(211.9)" cx="53"/><circle class="g" r="7.5" transform="rotate(349.4)" cx="99"/><circle class="g" r="7.5" transform="rotate(126.9)" cx="115"/>
<circle class="g" r="7.5" transform="rotate(264.4)" cx="63"/><circle class="g" r="7.5" transform="rotate(41.9)" cx="90"/><circle class="g" r="7.5" transform="rotate(179.4)" cx="77"/><circle class="g" r="7.5" transform="rotate(316.9)" cx="57"/><circle class="g" r="7.5" transform="rotate(94.4)" cx="103"/><circle class="g" r="7.5" transform="rotate(231.9)" cx="75"/><circle class="g" r="7.5" transform="rotate(9.4)" cx="120"/><circle class="g" r="7.5" transform="rotate(146.9)" cx="50"/><circle class="g" r="7.5" transform="rotate(284.4)" cx="87"/><circle class="g" r="7.5" transform="rotate(61.9)" cx="67"/>
<circle class="b" r="7.5" cx="-45" cy="27"/><circle class="b" r="7.5" cx="-25" cy="53"/><circle class="b" r="7.5" cx="89" cy="39"/><circle class="b" r="7.5" cx="128" cy="53"/><circle class="b" r="7.5" cx="36" cy="69"/><circle class="b" r="7.5" cx="26" cy="75"/><circle class="b" r="7.5" cx="40" cy="95"/>
</g>
<g id="nodes">
<g id="n-street"><circle class="k" cx="143" cy="822" r="5"/><text class="r" x="143" y="822">street</text></g>
<g id="n-cas1"><circle class="g" cx="547" cy="18" r="7.5"/><text x="545" y="19">Cas</text></g>
<g id="n-cas2"><circle class="g" cx="589" cy="18" r="7.5"/><text x="589" y="20">Cas</text></g>
<g id="n-cas3"><circle class="g" cx="612" cy="13" r="7.5"/><text x="612" y="13">Cas</text></g>
<g id="n-sada1"><circle class="b" cx="634" cy="16" r="7.5"/><text x="639" y="17">Sada</text></g>
<g id="n-family-name"><circle class="k" cx="618" cy="43" r="7.5"/><text class="r" x="617" y="43">family name</text></g>
<g id="n-volny1"><circle class="g" cx="591" cy="78" r="7.5"/><text x="587" y="78">Volny</text></g>
<g id="n-volny2"><circle class="g" cx="618" cy="71" r="7.5"/><text x="618" y="71">Volny</text></g>
<g id="n-proper-noun"><circle class="k" cx="644" cy="85" r="7.5"/><text x="644" y="83">proper noun</text></g>
<g id="n-male-given-name"><circle class="k" cx="517" cy="38" r="7.5"/><text x="517" y="38">male given name</text></g>
<g id="n-given-name"><circle class="k" cx="520" cy="56" r="7.5"/><text x="520" y="56">given name</text></g>
<g id="n-anthroponym"><circle class="k" cx="539" cy="79" r="7.5"/><text x="537" y="79">anthroponym</text></g>
<g id="n-proper-name"><circle class="k" cx="609" cy="98" r="7.5"/><text x="608" y="98">proper name</text></g>
<g id="n-noun-phrase"><circle class="k" cx="624" cy="109" r="7.5"/><text x="623" y="109">noun phrase</text></g>
<g id="n-noun2"><circle class="k" cx="640" cy="111" r="7.5"/></g>
<g id="n-name"><circle class="k" cx="571" cy="123" r="7.5"/><text x="570" y="122">name</text></g>
<g id="n-q17"><circle class="k" cx="625" cy="124" r="7.5"/><text x="625" y="124">Q17376041</text></g>
<g id="n-nominal"><circle class="k" cx="604" cy="142" r="7.5"/><text x="605" y="142">nominal</text></g>
<g id="n-form"><circle class="k" cx="626" cy="146" r="7.5"/></g>
<g id="n-word"><circle class="k" cx="658" cy="141" r="7.5"/><text x="660" y="141">word</text></g>
<g id="n-phrase"><circle class="k" cx="646" cy="155" r="7.5"/><text x="646" y="155">phrase</text></g>
<g id="n-constituent"><circle class="k" cx="620" cy="172" r="7.5"/><text x="621" y="173">constituent</text></g>
<g id="n-lexical-item"><circle class="k" cx="664" cy="177" r="7.5"/><text x="664" y="178">lexical item</text></g>
<g id="n-lexeme"><circle class="k" cx="643" cy="183" r="7.5"/><text x="640" y="184">lexeme</text></g>
<g id="n-emic-unit"><circle class="k" cx="617" cy="195" r="7.5"/><text x="617" y="195">emic unit</text></g>
<g id="n-linguistic-unit"><circle class="k" cx="647" cy="204" r="7.5"/><text x="648" y="204">linguistic unit</text></g>
<g id="n-language-unit"><circle class="k" cx="664" cy="219" r="7.5"/><text x="663" y="219">language unit</text></g>
<g id="n-part-of-speech"><circle class="k" cx="582" cy="187" r="7.5"/><text x="585" y="187">part of speech</text></g>
<g id="n-sentence"><circle class="k" cx="592" cy="219" r="7.5"/><text x="597" y="220">sentence</text></g>
<g id="n-agreement"><circle class="k" cx="570" cy="224" r="7.5"/><text x="569" y="224">agreement</text></g>
<g id="n-semantic-unit"><circle class="k" cx="616" cy="232" r="7.5"/><text x="616" y="232">semantic unit</text></g>
<g id="n-meaning1"><circle class="k" cx="627" cy="249" r="7.5"/><text x="627" y="249">meaning</text></g>
<g id="n-meaning2"><circle class="k" cx="627" cy="270" r="7.5"/><text x="627" y="270">meaning</text></g>
<g id="n-u1"><circle class="k" cx="560" cy="246" r="7.5"/></g>
<g id="n-relation"><circle class="k" cx="559" cy="262" r="7.5"/><text x="560" y="262">relation</text></g>
<g id="n-depiction"><circle class="k" cx="457" cy="150" r="7.5"/><text x="457" y="150">depiction</text></g>
<g id="n-television-genre"><circle class="k" cx="468" cy="167" r="7.5"/><text x="515" y="166">television genre</text></g>
<g id="n-sports-program"><circle class="g" cx="500" cy="159" r="7.5"/><text x="505" y="159">sports program</text></g>
<g id="n-genre"><circle class="k" cx="518" cy="167" r="7.5"/></g>
<g id="n-radio-genre"><circle class="k" cx="497" cy="180" r="7.5"/><text x="497" y="180">radio genre</text></g>
<g id="n-genre2"><circle class="k" cx="530" cy="191" r="7.5"/></g>
<g id="n-symbol"><circle class="k" cx="493" cy="198" r="7.5"/><text x="492" y="197">symbol</text></g>
<g id="n-radio-program"><circle class="k" cx="442" cy="213" r="7.5"/><text x="442" y="213">radio program</text></g>
<g id="n-rights"><circle class="k" cx="484" cy="221" r="7.5"/><text x="486" y="221">rights</text></g>
<g id="n-u2"><circle class="k" cx="504" cy="213" r="7.5"/></g>
<g id="n-u3"><circle class="k" cx="511" cy="243" r="7.5"/></g>
<g id="n-u4"><circle class="k" cx="530" cy="237" r="7.5"/></g>
<g id="n-field-of-work"><circle class="k" cx="445" cy="188" r="7.5"/><text x="445" y="188">field of work</text></g>
<g id="n-specialty"><circle class="k" cx="423" cy="170" r="7.5"/><text x="420" y="170">specialty</text></g>
<g id="n-knowledge"><circle class="k" cx="401" cy="179" r="7.5"/><text x="401" y="179">knowledge</text></g>
<g id="n-wissenschaft"><circle class="k" cx="363" cy="172" r="7.5"/><text x="360" y="173">Wissenschaft</text></g>
<g id="n-science"><circle class="k" cx="335" cy="185" r="7.5"/><text x="335" y="185">science</text></g>
<g id="n-geisteswissenschaft"><circle class="k" cx="327" cy="146" r="7.5"/><text x="328" y="147">Geisteswissenschaft</text></g>
<g id="n-documentation-science"><circle class="k" cx="300" cy="141" r="7.5"/><text x="299" y="141">documentation science</text></g>
<g id="n-humanities"><circle class="k" cx="352" cy="123" r="7.5"/><text x="359" y="123">humanities</text></g>
<g id="n-philology"><circle class="k" cx="323" cy="117" r="7.5"/><text x="323" y="117">philology</text></g>
<g id="n-linguistics"><circle class="k" cx="298" cy="103" r="7.5"/><text x="298" y="103">linguistics</text></g>
<g id="n-terminology"><circle class="k" cx="274" cy="107" r="7.5"/><text x="272" y="106">terminology</text></g>
<g id="n-the-arts"><circle class="k" cx="339" cy="92" r="7.5"/><text x="339" y="92">the arts</text></g>
<g id="n-theatre"><circle class="b" cx="306" cy="65" r="7.5"/><text x="303" y="65">theatre</text></g>
<g id="n-performing-arts"><circle class="k" cx="322" cy="73" r="7.5"/><text x="322" y="72">performing arts</text></g>
<g id="n-sports-terminology"><circle class="k" cx="251" cy="84" r="7.5"/><text x="251" y="84">sports terminology</text></g>
<g id="n-sese"><circle class="b" cx="220" cy="70" r="7.5"/><circle class="b" cx="234" cy="70" r="7.5"/><text x="227" y="70">sese</text></g>
<g id="n-wdp-leaves">
<circle class="g" cx="58" cy="148" r="7.5"/><circle class="g" cx="87" cy="140" r="7.5"/><circle class="g" cx="103" cy="133" r="7.5"/><circle class="g" cx="124" cy="121" r="7.5"/><circle class="g" cx="146" cy="135" r="7.5"/><circle class="g" cx="80" cy="211" r="7.5"/><circle class="g" cx="111" cy="231" r="7.5"/><circle class="g" cx="90" cy="240" r="7.5"/>
<circle class="b" cx="139" cy="130" r="7.5"/><circle class="b" cx="115" cy="143" r="7.5"/><circle class="b" cx="177" cy="138" r="7.5"/><circle class="b" cx="117" cy="203" r="7.5"/><circle class="b" cx="117" cy="246" r="7.5"/><circle class="b" cx="152" cy="240" r="7.5"/>
</g>
<g id="n-mediawiki-main"><circle class="k" cx="204" cy="154" r="7.5"/><text x="203" y="153">MediaWiki main namespace page</text></g>
<g id="n-wdp"><circle class="k" cx="119" cy="176" r="7.5"/><text class="r" x="119" y="174">Wikimedia disambiguation page</text></g>
<g id="n-mediawiki-page"><circle class="k" cx="179" cy="220" r="7.5"/><text x="178" y="220">MediaWiki page</text></g>
<g id="n-wikimedia-internal"><circle class="k" cx="143" cy="247" r="7.5"/><text x="143" y="247">Wikimedia internal item</text></g>
<g id="n-divadlo"><circle class="b" cx="287" cy="233" r="7.5"/><text x="286" y="233">Divadlo</text></g>
<g id="n-q23854512"><circle class="g" cx="287" cy="253" r="7.5"/><text x="285" y="253">Q23854512</text></g>
<g id="n-prism"><circle class="k" cx="312" cy="243" r="7.5"/><text x="311" y="243">prism</text></g>
<g id="n-poetry"><circle class="k" cx="309" cy="261" r="7.5"/><text x="310" y="261">poetry</text></g>
<g id="n-encyclopedic-article"><circle class="k" cx="262" cy="272" r="7.5"/><text x="256" y="272">encyclopedic article</text></g>
<g id="n-time"><circle class="g" cx="341" cy="268" r="7.5"/><text x="341" y="268">time</text></g>
<g id="n-literary-work"><circle class="k" cx="330" cy="282" r="7.5"/><text x="335" y="277">literary work</text></g>
<g id="n-broadcasting-program"><circle class="k" cx="396" cy="262" r="7.5"/><text x="392" y="260">broadcasting program</text></g>
<g id="n-days"><circle class="g" cx="447" cy="250" r="7.5"/><text x="446" y="250">Days of our Lives</text></g>
<g id="n-television-program"><circle class="k" cx="423" cy="270" r="7.5"/><text x="405" y="270">television program</text></g>
<g id="n-u5"><circle class="k" cx="456" cy="267" r="7.5"/></g>
<g id="n-u6"><circle class="k" cx="474" cy="263" r="7.5"/></g>
<g id="n-tv-episode"><circle class="k" cx="404" cy="287" r="7.5"/><text x="404" y="286">television series episode</text></g>
<g id="n-audiovisual-work"><circle class="k" cx="425" cy="298" r="7.5"/><text x="428" y="299">audiovisual work</text></g>
<g id="n-u7"><circle class="k" cx="393" cy="301" r="7.5"/></g>
<g id="n-essay"><circle class="k" cx="308" cy="289" r="7.5"/><text x="308" y="289">essay</text></g>
<g id="n-creative-work"><circle class="k" cx="323" cy="304" r="7.5"/><circle class="k" cx="352" cy="304" r="7.5"/><text x="337" y="305">creative work</text></g>
<g id="n-activity"><circle class="k" cx="295" cy="319" r="7.5"/><text x="295" y="319">activity</text></g>
<g id="n-article"><circle class="k" cx="368" cy="317" r="7.5"/><text x="368" y="316">article</text></g>
<g id="n-mass-media"><circle class="k" cx="425" cy="314" r="7.5"/><text x="427" y="316">mass media</text></g>
<g id="n-publication"><circle class="k" cx="408" cy="324" r="7.5"/></g>
<g id="n-periodical"><circle class="k" cx="449" cy="322" r="7.5"/><text x="445" y="322">periodical</text></g>
<g id="n-intellectual-work"><circle class="k" cx="326" cy="329" r="7.5"/><text x="326" y="329">intellectual work</text></g>
<g id="n-u8"><circle class="k" cx="376" cy="331" r="7.5"/></g>
<g id="n-item-collection"><circle class="k" cx="290" cy="337" r="7.5"/><text x="290" y="338">item of collection or exhibition</text></g>
<g id="n-communication-medium"><circle class="k" cx="437" cy="337" r="7.5"/><text x="436" y="337">communication medium</text></g>
<g id="n-electronic-document"><circle class="k" cx="354" cy="344" r="7.5"/><circle class="k" cx="398" cy="347" r="7.5"/><text x="366" y="344">electronic document</text></g>
<g id="n-u9"><circle class="k" cx="478" cy="340" r="7.5"/></g>
<g id="n-u10"><circle class="k" cx="459" cy="349" r="7.5"/></g>
<g id="n-u11"><circle class="k" cx="293" cy="353" r="7.5"/></g>
<g id="n-u12"><circle class="k" cx="327" cy="359" r="7.5"/></g>
<g id="n-ergativeness"><circle class="k" cx="512" cy="355" r="7.5"/><text x="511" y="355">Ergativeness</text></g>
<g id="n-requirement"><circle class="k" cx="456" cy="363" r="7.5"/><text x="456" y="363">requirement</text></g>
<g id="n-technical-standard"><circle class="k" cx="368" cy="374" r="7.5"/><circle class="k" cx="384" cy="378" r="7.5"/><circle class="k" cx="398" cy="375" r="7.5"/><text x="385" y="376">technical standard</text></g>
<g id="n-intangible-good"><circle class="k" cx="478" cy="381" r="7.5"/><text x="477" y="383">intangible good</text></g>
<g id="n-convention"><circle class="k" cx="483" cy="376" r="7.5"/><text x="482" y="374">convention</text></g>
<g id="n-u13"><circle class="k" cx="541" cy="389" r="7.5"/></g>
<g id="n-technique"><circle class="k" cx="314" cy="393" r="7.5"/><circle class="k" cx="339" cy="395" r="7.5"/><text x="331" y="395">technique</text></g>
<g id="n-occurrence"><circle class="k" cx="283" cy="399" r="7.5"/><text x="281" y="399">occurrence</text></g>
<g id="n-data-format"><circle class="k" cx="413" cy="397" r="7.5"/><text x="412" y="398">data format</text></g>
<g id="n-statement"><circle class="k" cx="460" cy="403" r="7.5"/><text x="464" y="403">statement</text></g>
<g id="n-state"><circle class="k" cx="515" cy="400" r="7.5"/><text x="513" y="400">state</text></g>
<g id="n-scale"><circle class="k" cx="373" cy="408" r="7.5"/><circle class="k" cx="379" cy="412" r="7.5"/><text x="376" y="409">scale</text></g>
<g id="n-q27685126"><circle class="g" cx="333" cy="423" r="7.5"/><text x="332" y="422">Q27685126</text></g>
<g id="n-data-structure"><circle class="k" cx="479" cy="413" r="7.5"/><text x="480" y="413">data structure</text></g>
<g id="n-product1"><circle class="k" cx="417" cy="421" r="7.5"/><text x="416" y="421">product</text></g>
<g id="n-data-conversion"><circle class="k" cx="283" cy="433" r="7.5"/><text x="283" y="433">data conversion</text></g>
<g id="n-series-creative"><circle class="k" cx="420" cy="431" r="7.5"/><text x="420" y="431">series of creative works</text></g>
<g id="n-problem"><circle class="k" cx="379" cy="436" r="7.5"/><text x="380" y="435">problem</text></g>
<g id="n-change"><circle class="k" cx="453" cy="437" r="7.5"/><text x="458" y="432">change</text></g>
<g id="n-manifestation"><circle class="k" cx="512" cy="439" r="7.5"/><text x="508" y="440">manifestation</text></g>
<g id="n-concept"><circle class="k" cx="338" cy="455" r="7.5"/><text x="337" y="455">concept</text></g>
<g id="n-phenomenon"><circle class="k" cx="455" cy="455" r="7.5"/><text x="456" y="455">phenomenon</text></g>
<g id="n-process"><circle class="k" cx="366" cy="475" r="7.5"/><text x="360" y="475">process</text></g>
<g id="n-group-of-works"><circle class="k" cx="400" cy="469" r="7.5"/><circle class="k" cx="423" cy="473" r="7.5"/><text x="423" y="473">group of works</text></g>
<g id="n-social-phenomenon"><circle class="k" cx="294" cy="484" r="7.5"/><text x="293" y="484">social phenomenon</text></g>
<g id="n-action"><circle class="k" cx="347" cy="489" r="7.5"/><text x="347" y="488">action</text></g>
<g id="n-phenomenon2"><circle class="k" cx="478" cy="480" r="7.5"/><text x="478" y="480">phenomenon</text></g>
<g id="n-natural-phenomenon"><circle class="k" cx="512" cy="489" r="7.5"/><text x="505" y="488">natural phenomenon</text></g>
<g id="n-research"><circle class="k" cx="529" cy="466" r="7.5"/><text x="525" y="466">research</text></g>
<g id="n-sensemaking"><circle class="k" cx="370" cy="504" r="7.5"/><text x="370" y="504">sensemaking</text></g>
<g id="n-tree"><circle class="g" cx="397" cy="494" r="7.5"/></g>
<g id="n-temporal-entity"><circle class="k" cx="434" cy="498" r="7.5"/><text x="436" y="498">temporal entity</text></g>
<g id="n-description"><circle class="k" cx="386" cy="516" r="7.5"/><circle class="k" cx="408" cy="519" r="7.5"/><text x="392" y="516">description</text></g>
<g id="n-assignment"><circle class="k" cx="276" cy="526" r="7.5"/><text x="274" y="526">assignment</text></g>
<g id="n-u14"><circle class="k" cx="316" cy="516" r="7.5"/></g>
<g id="n-entity"><circle class="k" cx="509" cy="517" r="7.5"/><text x="497" y="517">entity</text></g>
<g id="n-unit"><circle class="k" cx="501" cy="529" r="7.5"/><text x="502" y="529">unit</text></g>
<g id="n-group"><circle class="k" cx="448" cy="534" r="7.5"/><text x="448" y="534">group</text></g>
<g id="n-spacio-temporal"><circle class="k" cx="428" cy="554" r="7.5"/><text x="425" y="553">spacio-temporal entity</text></g>
<g id="n-production"><circle class="k" cx="347" cy="555" r="7.5"/><text x="347" y="555">production</text></g>
<g id="n-interpolation"><circle class="k" cx="169" cy="475" r="7.5"/><text x="169" y="475">interpolation</text></g>
<g id="n-leisure"><circle class="g" cx="223" cy="313" r="7.5"/><text x="222" y="314">leisure</text></g>
<g id="n-web-page"><circle class="k" cx="239" cy="326" r="7.5"/><text x="239" y="325">web page</text></g>
<g id="n-human-behavior"><circle class="k" cx="257" cy="301" r="7.5"/><circle class="k" cx="252" cy="308" r="7.5"/><text x="247" y="302">human behavior</text></g>
<g id="n-u15"><circle class="k" cx="224" cy="285" r="7.5"/></g>
<g id="n-word-sense"><circle class="k" cx="247" cy="361" r="7.5"/><text x="245" y="361">word-sense disambiguation</text></g>
<g id="n-q20493267"><circle class="g" cx="127" cy="541" r="7.5"/><text x="127" y="541">Q20493267</text></g>
<g id="n-program-management"><circle class="b" cx="199" cy="538" r="7.5"/><text x="198" y="537">Program management</text></g>
<g id="n-philosophy"><circle class="g" cx="228" cy="561" r="7.5"/><text x="229" y="561">Philosophy of space and time</text></g>
<g id="n-q422394"><circle class="g" cx="167" cy="579" r="7.5"/><text x="167" y="579">Q422394</text></g>
<g id="n-action-z"><circle class="g" cx="220" cy="592" r="7.5"/><text x="220" y="592">Action Z</text></g>
<g id="n-event"><circle class="g" cx="98" cy="330" r="11.5"/><text class="big" x="97" y="330">event</text></g>
<g id="n-performance"><circle class="b" cx="98" cy="441" r="11.5"/><text class="big" x="98" y="441">performance</text></g>
<g id="n-geographic-entity"><circle class="k" cx="486" cy="564" r="7.5"/><text x="485" y="564">geographic entity</text></g>
<g id="n-u16"><circle class="k" cx="529" cy="565" r="7.5"/></g>
<g id="n-artificial-entity"><circle class="k" cx="448" cy="573" r="7.5"/><text x="450" y="572">artificial entity</text></g>
<g id="n-construction"><circle class="k" cx="518" cy="579" r="7.5"/><text x="515" y="579">construction</text></g>
<g id="n-subject"><circle class="k" cx="460" cy="589" r="7.5"/><text x="460" y="589">subject</text></g>
<g id="n-system"><circle class="k" cx="534" cy="599" r="7.5"/><text x="534" y="599">system</text></g>
<g id="n-artificial-geographic"><circle class="k" cx="478" cy="606" r="7.5"/><text x="480" y="606">artificial geographic entity</text></g>
<g id="n-human-made"><circle class="k" cx="532" cy="619" r="7.5"/><text x="515" y="619">human-made geographic object</text></g>
<g id="n-industry"><circle class="k" cx="337" cy="626" r="7.5"/><text x="337" y="626">industry</text></g>
<g id="n-statistical-definition"><circle class="k" cx="404" cy="621" r="7.5"/><text x="404" y="621">statistical definition</text></g>
<g id="n-spatial-entity"><circle class="k" cx="502" cy="631" r="7.5"/><text x="501" y="631">spatial entity</text></g>
<g id="n-legal-person"><circle class="k" cx="397" cy="638" r="7.5"/><text x="396" y="638">legal person</text></g>
<g id="n-working-group"><circle class="k" cx="424" cy="642" r="7.5"/><text x="426" y="642">working group</text></g>
<g id="n-structure"><circle class="k" cx="414" cy="649" r="7.5"/><text x="413" y="649">structure</text></g>
<g id="n-agent"><circle class="k" cx="423" cy="661" r="7.5"/><text x="423" y="661">agent</text></g>
<g id="n-railway-facility"><circle class="k" cx="502" cy="655" r="7.5"/><text x="503" y="655">railway facility</text></g>
<g id="n-social-group"><circle class="k" cx="468" cy="667" r="7.5"/><text x="467" y="667">social group</text></g>
<g id="n-operation"><circle class="k" cx="530" cy="669" r="7.5"/><text x="515" y="669">operation</text></g>
<g id="n-juridical-person"><circle class="k" cx="384" cy="682" r="7.5"/><text x="384" y="682">juridical person</text></g>
<g id="n-q4830453"><circle class="g" cx="532" cy="689" r="7.5"/><text x="522" y="689">Q4830453</text></g>
<g id="n-rail-infrastructure"><circle class="k" cx="485" cy="695" r="7.5"/><text x="485" y="695">rail infrastructure</text></g>
<g id="n-business"><circle class="k" cx="338" cy="693" r="7.5"/><text x="338" y="693">business</text></g>
<g id="n-company"><circle class="k" cx="374" cy="716" r="7.5"/><text x="374" y="716">company</text></g>
<g id="n-telekom"><circle class="g" cx="314" cy="722" r="7.5"/><text x="313" y="723">Telekom Austria Czech Republic</text></g>
<g id="n-transport-infrastructure"><circle class="k" cx="499" cy="721" r="7.5"/><text x="500" y="721">transport infrastructure</text></g>
<g id="n-statistical-territorial"><circle class="k" cx="445" cy="728" r="7.5"/><text x="441" y="729">statistical territorial entity</text></g>
<g id="n-group-of-humans"><circle class="k" cx="406" cy="738" r="7.5"/><text x="406" y="737">group of humans</text></g>
<g id="n-u17"><circle class="k" cx="348" cy="738" r="7.5"/></g>
<g id="n-public-space"><circle class="k" cx="474" cy="745" r="7.5"/><text x="473" y="745">public space</text></g>
<g id="n-thoroughfare"><circle class="k" cx="358" cy="752" r="7.5"/><text x="358" y="752">thoroughfare</text></g>
<g id="n-enterprise"><circle class="k" cx="348" cy="764" r="7.5"/><text x="347" y="764">enterprise</text></g>
<g id="n-social-space"><circle class="k" cx="528" cy="758" r="7.5"/><text x="525" y="756">social space</text></g>
<g id="n-theatre-company"><circle class="b" cx="361" cy="795" r="7.5"/><text x="360" y="795">theatre company</text></g>
<g id="n-organization"><circle class="k" cx="374" cy="789" r="7.5"/><text x="375" y="788">organization</text></g>
<g id="n-human-geographic"><circle class="k" cx="488" cy="800" r="7.5"/><text x="475" y="800">human-geographic territorial entity</text></g>
<g id="n-community"><circle class="k" cx="484" cy="813" r="7.5"/><text x="484" y="814">community</text></g>
<g id="n-urban-area"><circle class="k" cx="517" cy="824" r="7.5"/><text x="515" y="826">urban area</text></g>
<g id="n-infrastructure"><circle class="k" cx="564" cy="645" r="7.5"/><text x="560" y="645">infrastructure</text></g>
<g id="n-architectural-structure"><circle class="k" cx="595" cy="661" r="7.5"/><text x="591" y="661">architectural structure</text></g>
<g id="n-u18"><circle class="k" cx="559" cy="687" r="7.5"/></g>
<g id="n-part-of-populated"><circle class="k" cx="612" cy="692" r="7.5"/><text x="618" y="691">part of populated place</text></g>
<g id="n-geographical-object"><circle class="k" cx="568" cy="707" r="7.5"/><text x="572" y="705">geographical object</text></g>
<g id="n-building"><circle class="k" cx="618" cy="714" r="7.5"/><text x="618" y="714">building</text></g>
<g id="n-public-building"><circle class="k" cx="645" cy="718" r="7.5"/><text x="646" y="718">public building</text></g>
<g id="n-location"><circle class="k" cx="594" cy="732" r="7.5"/><text x="600" y="733">location</text></g>
<g id="n-performing-arts-building"><circle class="k" cx="644" cy="739" r="7.5"/><text x="646" y="738">performing arts building</text></g>
<g id="n-facility"><circle class="k" cx="574" cy="745" r="7.5"/><text x="580" y="745">facility</text></g>
<g id="n-venue"><circle class="k" cx="598" cy="754" r="7.5"/><text x="597" y="754">venue</text></g>
<g id="n-geographic-location"><circle class="k" cx="574" cy="771" r="7.5"/><text x="575" y="771">geographic location</text></g>
<g id="n-territorial-entity"><circle class="k" cx="548" cy="788" r="7.5"/><text x="548" y="787">territorial entity</text></g>
<g id="n-natural-area"><circle class="k" cx="662" cy="789" r="7.5"/><text x="645" y="790">natural area</text></g>
<g id="n-open-air-theatre"><circle class="k" cx="687" cy="791" r="7.5"/><text x="686" y="790">open-air theatre</text></g>
<g id="n-locality"><circle class="k" cx="599" cy="802" r="7.5"/><text x="598" y="802">locality</text></g>
<g id="n-natural-monument-cz"><circle class="k" cx="694" cy="810" r="7.5"/><text x="698" y="811">natural monument of the Czech Republic</text></g>
<g id="n-geographic-region"><circle class="k" cx="556" cy="809" r="7.5"/><text x="548" y="809">geographic region</text></g>
<g id="n-natural-environment"><circle class="k" cx="703" cy="650" r="7.5"/><text x="703" y="650">natural environment</text></g>
<g id="n-physico-geographical"><circle class="k" cx="662" cy="669" r="7.5"/><text x="662" y="669">physico-geographical object</text></g>
<g id="n-natural-heritage"><circle class="k" cx="679" cy="685" r="7.5"/><text x="679" y="684">natural heritage</text></g>
<g id="n-environment1"><circle class="k" cx="725" cy="696" r="7.5"/><text x="725" y="697">environment</text></g>
<g id="n-environment2"><circle class="k" cx="707" cy="708" r="7.5"/><text x="707" y="709">environment</text></g>
<g id="n-nove-divadlo1"><circle class="b" cx="695" cy="728" r="7.5"/><text x="695" y="729">Nové divadlo</text></g>
<g id="n-divadlo-m"><circle class="b" cx="723" cy="758" r="7.5"/><text x="723" y="758">Divadlo M</text></g>
<g id="n-theater"><circle class="b" cx="650" cy="764" r="7.5"/><text x="649" y="763">theater</text></g>
<g id="n-divadlo-z"><circle class="b" cx="694" cy="766" r="7.5"/><text x="694" y="767">Divadlo Z</text></g>
<g id="n-nove-divadlo2"><circle class="b" cx="627" cy="780" r="7.5"/><text x="626" y="780">Nové divadlo</text></g>
<g id="n-natural-physical-object"><circle class="k" cx="651" cy="626" r="7.5"/><text x="650" y="626">natural physical object</text></g>
<g id="n-physical-system"><circle class="k" cx="605" cy="585" r="7.5"/><text x="605" y="585">physical system</text></g>
<g id="n-physical-object"><circle class="k" cx="612" cy="601" r="7.5"/><text x="617" y="600">physical object</text></g>
<g id="n-u19"><circle class="k" cx="579" cy="589" r="7.5"/></g>
<g id="n-real-property"><circle class="k" cx="580" cy="609" r="7.5"/><text x="569" y="607">real property</text></g>
<g id="n-physical-substance"><circle class="k" cx="648" cy="572" r="7.5"/><text x="648" y="572">physical substance</text></g>
<g id="n-material-substance"><circle class="k" cx="685" cy="565" r="7.5"/><circle class="k" cx="724" cy="564" r="7.5"/><text x="688" y="565">material substance</text></g>
<g id="n-matter"><circle class="k" cx="759" cy="557" r="7.5"/><text x="760" y="557">matter</text></g>
<g id="n-mathematical-concept"><circle class="k" cx="598" cy="290" r="7.5"/><text x="600" y="290">mathematical concept</text></g>
<g id="n-content"><circle class="k" cx="620" cy="299" r="7.5"/></g>
<g id="n-mental-representation"><circle class="k" cx="673" cy="302" r="7.5"/><text x="677" y="300">mental representation</text></g>
<g id="n-mathematical-object"><circle class="k" cx="583" cy="305" r="7.5"/><text x="580" y="305">mathematical object</text></g>
<g id="n-abstract-object"><circle class="k" cx="554" cy="323" r="7.5"/><text x="560" y="323">abstract object</text></g>
<g id="n-quantity1"><circle class="k" cx="620" cy="326" r="7.5"/><text x="620" y="326">quantity</text></g>
<g id="n-physical-quantity"><circle class="k" cx="667" cy="333" r="7.5"/><text x="670" y="333">physical quantity</text></g>
<g id="n-action-g"><circle class="g" cx="698" cy="337" r="7.5"/><text x="698" y="338">action</text></g>
<g id="n-category-of-being"><circle class="k" cx="624" cy="338" r="7.5"/><text x="621" y="338">category of being</text></g>
<g id="n-mental-object"><circle class="k" cx="670" cy="350" r="7.5"/><text x="670" y="350">mental object</text></g>
<g id="n-representation"><circle class="k" cx="591" cy="347" r="7.5"/><text x="592" y="347">representation</text></g>
<g id="n-physical-property"><circle class="k" cx="649" cy="358" r="7.5"/><text x="649" y="357">physical property</text></g>
<g id="n-tense"><circle class="g" cx="705" cy="363" r="7.5"/><text x="705" y="364">tense</text></g>
<g id="n-property1"><circle class="k" cx="548" cy="360" r="7.5"/><text x="580" y="359">property</text></g>
<g id="n-grammatical-category"><circle class="k" cx="674" cy="374" r="7.5"/><text x="672" y="373">grammatical category</text></g>
<g id="n-property2"><circle class="k" cx="609" cy="376" r="7.5"/><text x="600" y="375">property</text></g>
<g id="n-feature1"><circle class="k" cx="646" cy="388" r="7.5"/><text x="645" y="389">feature</text></g>
<g id="n-feature2"><circle class="k" cx="675" cy="388" r="7.5"/><text x="676" y="389">feature</text></g>
<g id="n-object"><circle class="k" cx="565" cy="384" r="7.5"/><text x="565" y="384">object</text></g>
<g id="n-u20"><circle class="k" cx="538" cy="386" r="7.5"/></g>
<g id="n-criterion"><circle class="k" cx="633" cy="402" r="7.5"/><text x="632" y="403">criterion</text></g>
<g id="n-akon"><circle class="g" cx="601" cy="409" r="7.5"/><text x="600" y="409">Akon</text></g>
<g id="n-unit-of-measurement"><circle class="k" cx="679" cy="411" r="7.5"/><text x="678" y="412">unit of measurement</text></g>
<g id="n-quantity2"><circle class="k" cx="628" cy="414" r="7.5"/></g>
<g id="n-exchange"><circle class="k" cx="580" cy="425" r="7.5"/><text x="606" y="424">exchange</text></g>
<g id="n-frequency"><circle class="k" cx="553" cy="418" r="7.5"/><text x="548" y="404">frequency</text></g>
<g id="n-u21"><circle class="k" cx="534" cy="423" r="7.5"/></g>
<g id="n-measure"><circle class="k" cx="638" cy="433" r="7.5"/><text x="637" y="433">measure</text></g>
<g id="n-metaclass"><circle class="k" cx="616" cy="444" r="7.5"/><text x="616" y="444">metaclass</text></g>
<g id="n-quantity3"><circle class="k" cx="563" cy="445" r="7.5"/><text x="555" y="446">quantity</text></g>
<g id="n-consequence"><circle class="k" cx="722" cy="448" r="7.5"/><text x="722" y="447">consequence</text></g>
<g id="n-logical-consequence"><circle class="k" cx="699" cy="456" r="7.5"/><text x="699" y="455">logical consequence</text></g>
<g id="n-result"><circle class="k" cx="664" cy="465" r="7.5"/><text x="664" y="465">result</text></g>
<g id="n-goods"><circle class="k" cx="570" cy="460" r="7.5"/><text x="560" y="459">goods</text></g>
<g id="n-u22"><circle class="k" cx="554" cy="470" r="7.5"/></g>
<g id="n-goods-and-services"><circle class="k" cx="589" cy="477" r="7.5"/><circle class="k" cx="621" cy="475" r="7.5"/><text x="625" y="475">goods and services</text></g>
<g id="n-u23"><circle class="k" cx="548" cy="496" r="7.5"/></g>
<g id="n-u24"><circle class="k" cx="553" cy="508" r="7.5"/></g>
<g id="n-u25"><circle class="k" cx="528" cy="506" r="7.5"/></g>
<g id="n-chemical"><circle class="k" cx="679" cy="489" r="7.5"/><text x="650" y="489">chemical</text></g>
<g id="n-chemical-compound"><circle class="k" cx="728" cy="486" r="7.5"/><text x="728" y="486">chemical compound</text></g>
<g id="n-calcium-sulfide"><circle class="g" cx="715" cy="496" r="7.5"/><text x="717" y="496">calcium sulfide</text></g>
<g id="n-product2"><circle class="k" cx="612" cy="504" r="7.5"/><text x="611" y="503">product</text></g>
<g id="n-perceptible-object"><circle class="k" cx="635" cy="513" r="7.5"/><text x="636" y="513">perceptible object</text></g>
<g id="n-pure-substance"><circle class="k" cx="759" cy="519" r="7.5"/><text x="759" y="519">pure substance</text></g>
<g id="n-base-material"><circle class="k" cx="693" cy="523" r="7.5"/><text x="693" y="523">base material</text></g>
<g id="n-ordinary-matter"><circle class="k" cx="724" cy="534" r="7.5"/><text x="724" y="533">ordinary matter</text></g>
<g id="n-baryonic-matter"><circle class="k" cx="768" cy="544" r="7.5"/><text x="768" y="544">baryonic matter</text></g>
<g id="n-chemical-entity"><circle class="k" cx="624" cy="530" r="7.5"/><text x="624" y="531">chemical entity</text></g>
<g id="n-chemical-substance"><circle class="k" cx="688" cy="538" r="7.5"/><text x="686" y="538">chemical substance</text></g>
<g id="n-natural-object"><circle class="k" cx="574" cy="528" r="7.5"/><text x="570" y="526">natural object</text></g>
<g id="n-object-of-science"><circle class="k" cx="582" cy="539" r="7.5"/><text x="579" y="539">object of science</text></g>
<g id="n-u26"><circle class="k" cx="561" cy="549" r="7.5"/></g>
<g id="n-component"><circle class="k" cx="637" cy="547" r="7.5"/><text x="637" y="548">component</text></g>
<g id="n-substance"><circle class="k" cx="704" cy="550" r="7.5"/><text x="704" y="551">substance</text></g>
<g id="n-u27"><circle class="k" cx="520" cy="289" r="7.5"/></g>
<g id="n-wiki-blue"><circle class="b" cx="538" cy="281" r="7.5"/></g>
<g id="n-data-type"><circle class="k" cx="523" cy="312" r="7.5"/><text x="520" y="313">data type</text></g>
<g id="n-u28"><circle class="k" cx="502" cy="322" r="7.5"/></g>
<g id="n-government-organization"><circle class="k" cx="375" cy="841" r="7.5"/><text x="375" y="840">government organization</text></g>
<g id="n-political-organisation"><circle class="k" cx="404" cy="859" r="7.5"/><text x="399" y="858">political organisation</text></g>
<g id="n-residential-community"><circle class="k" cx="472" cy="864" r="7.5"/><text x="471" y="863">residential community</text></g>
<g id="n-u29"><circle class="k" cx="499" cy="857" r="7.5"/></g>
<g id="n-human-settlement"><circle class="k" cx="546" cy="841" r="7.5"/><text x="546" y="841">human settlement</text></g>
<g id="n-public-body"><circle class="k" cx="318" cy="896" r="7.5"/><text x="317" y="896">public body</text></g>
<g id="n-organ"><circle class="k" cx="345" cy="893" r="7.5"/><text x="342" y="891">organ</text></g>
<g id="n-local-government"><circle class="k" cx="409" cy="891" r="7.5"/><text x="408" y="890">local government</text></g>
<g id="n-municipal-corporation"><circle class="k" cx="432" cy="901" r="7.5"/><text x="431" y="900">municipal corporation</text></g>
<g id="n-neighborhood"><circle class="k" cx="492" cy="910" r="7.5"/><text x="491" y="910">neighborhood</text></g>
<g id="n-city-town"><circle class="k" cx="528" cy="899" r="7.5"/><text x="527" y="899">city/town</text></g>
<g id="n-u30"><circle class="k" cx="514" cy="878" r="7.5"/></g>
<g id="n-government"><circle class="k" cx="378" cy="911" r="7.5"/><text x="378" y="910">government</text></g>
<g id="n-public-authority"><circle class="k" cx="325" cy="921" r="7.5"/><text x="325" y="920">public authority</text></g>
<g id="n-executive-branch"><circle class="k" cx="355" cy="932" r="7.5"/><text x="355" y="933">executive branch</text></g>
<g id="n-state-power"><circle class="k" cx="372" cy="936" r="7.5"/><text x="382" y="936">state power</text></g>
<g id="n-municipality-town"><circle class="k" cx="517" cy="936" r="7.5"/><text x="514" y="936">municipality with town privileges in the...</text></g>
<g id="n-authority"><circle class="k" cx="295" cy="940" r="7.5"/><text x="294" y="940">authority</text></g>
<g id="n-political-power"><circle class="k" cx="333" cy="946" r="7.5"/><text x="332" y="946">political power</text></g>
<g id="n-power1"><circle class="k" cx="313" cy="965" r="7.5"/><text x="313" y="963">power</text></g>
<g id="n-power2"><circle class="k" cx="303" cy="990" r="7.5"/><text x="303" y="988">power</text></g>
<g id="n-ate"><circle class="k" cx="481" cy="954" r="7.5"/><text x="486" y="953">administrative territorial entity</text></g>
<g id="n-bohumin"><circle class="g" cx="514" cy="976" r="7.5"/><text x="515" y="976">Bohumín</text></g>
<g id="n-political-territorial"><circle class="k" cx="395" cy="982" r="7.5"/><text x="395" y="981">political territorial entity</text></g>
<g id="n-municipality"><circle class="k" cx="470" cy="993" r="7.5"/><circle class="k" cx="493" cy="992" r="7.5"/><text x="472" y="992">municipality</text></g>
<g id="n-commune"><circle class="k" cx="442" cy="1016" r="7.5"/><text x="441" y="1015">commune</text></g>
<g id="n-territorial-collectivity"><circle class="k" cx="501" cy="1027" r="7.5"/><text x="500" y="1027">territorial collectivity of France</text></g>
<g id="n-sada-b1"><circle class="b" cx="394" cy="1033" r="7.5"/><text x="394" y="1033">Sada</text></g>
<g id="n-commune-of-france"><circle class="k" cx="466" cy="1041" r="7.5"/><text x="466" y="1041">commune of France</text></g>
<g id="n-ate-s-lower"><circle class="k" cx="538" cy="1051" r="7.5"/><text x="538" y="1051">administrative territorial entity of a s...</text></g>
<g id="n-ate-fra"><circle class="k" cx="608" cy="1063" r="7.5"/><text x="607" y="1063">administrative territorial entity of Fra...</text></g>
<g id="n-fifth-level"><circle class="k" cx="506" cy="1073" r="7.5"/><text x="505" y="1073">fifth-level administrative country subd...</text></g>
<g id="n-fourth-level"><circle class="k" cx="473" cy="1077" r="7.5"/><circle class="k" cx="570" cy="1083" r="7.5"/><text x="570" y="1082">fourth-level administrative country subd...</text></g>
<g id="n-local-admin-unit"><circle class="k" cx="530" cy="1094" r="7.5"/><text x="530" y="1094">local administrative unit in the NUTS sy...</text></g>
<g id="n-municipality-cz"><circle class="k" cx="551" cy="1008" r="7.5"/><text x="551" y="1008">municipality of the Czech Republic</text></g>
<g id="n-ate-s-upper"><circle class="k" cx="619" cy="992" r="7.5"/><text x="625" y="992">administrative territorial entity of a s...</text></g>
<g id="n-ate-the"><circle class="k" cx="649" cy="962" r="7.5"/><text x="650" y="962">administrative territorial entity of the...</text></g>
<g id="n-cadastral-municipality"><circle class="k" cx="576" cy="959" r="7.5"/><text x="580" y="958">cadastral municipality</text></g>
<g id="n-cadastral-area"><circle class="k" cx="621" cy="946" r="7.5"/><text x="622" y="946">cadastral area in the Czech Republic</text></g>
<g id="n-ate-tur"><circle class="k" cx="654" cy="923" r="7.5"/><text x="653" y="922">administrative territorial entity of Tur...</text></g>
<g id="n-novy-bohumin"><circle class="g" cx="567" cy="920" r="7.5"/><text x="568" y="919">Nový Bohumín</text></g>
<g id="n-protected-area"><circle class="k" cx="678" cy="904" r="7.5"/><text x="678" y="903">protected area of the Czech Republic</text></g>
<g id="n-sada-b2"><circle class="b" cx="628" cy="909" r="7.5"/><text x="628" y="909">Sada</text></g>
<g id="n-u31"><circle class="k" cx="594" cy="892" r="7.5"/></g>
<g id="n-inhabited-area"><circle class="k" cx="554" cy="884" r="7.5"/><text x="555" y="884">inhabited area</text></g>
<g id="n-sada-b3"><circle class="b" cx="568" cy="869" r="7.5"/><text x="568" y="869">Sada</text></g>
<g id="n-sada-b4"><circle class="b" cx="631" cy="875" r="7.5"/><text x="631" y="875">Sada</text></g>
<g id="n-rural-settlement"><circle class="k" cx="577" cy="854" r="7.5"/><text x="580" y="854">rural settlement</text></g>
<g id="n-u32"><circle class="k" cx="608" cy="850" r="7.5"/></g>
<g id="n-velke-divadlo"><circle class="b" cx="704" cy="850" r="7.5"/><text x="686" y="850">Velké Divadlo (natural monument)</text></g>
<g id="n-landscape-park"><circle class="k" cx="654" cy="833" r="7.5"/><text x="658" y="833">landscape park</text></g>
<g id="n-rural-area"><circle class="k" cx="614" cy="830" r="7.5"/><text x="577" y="830">rural area</text></g>
</g>
</svg>
